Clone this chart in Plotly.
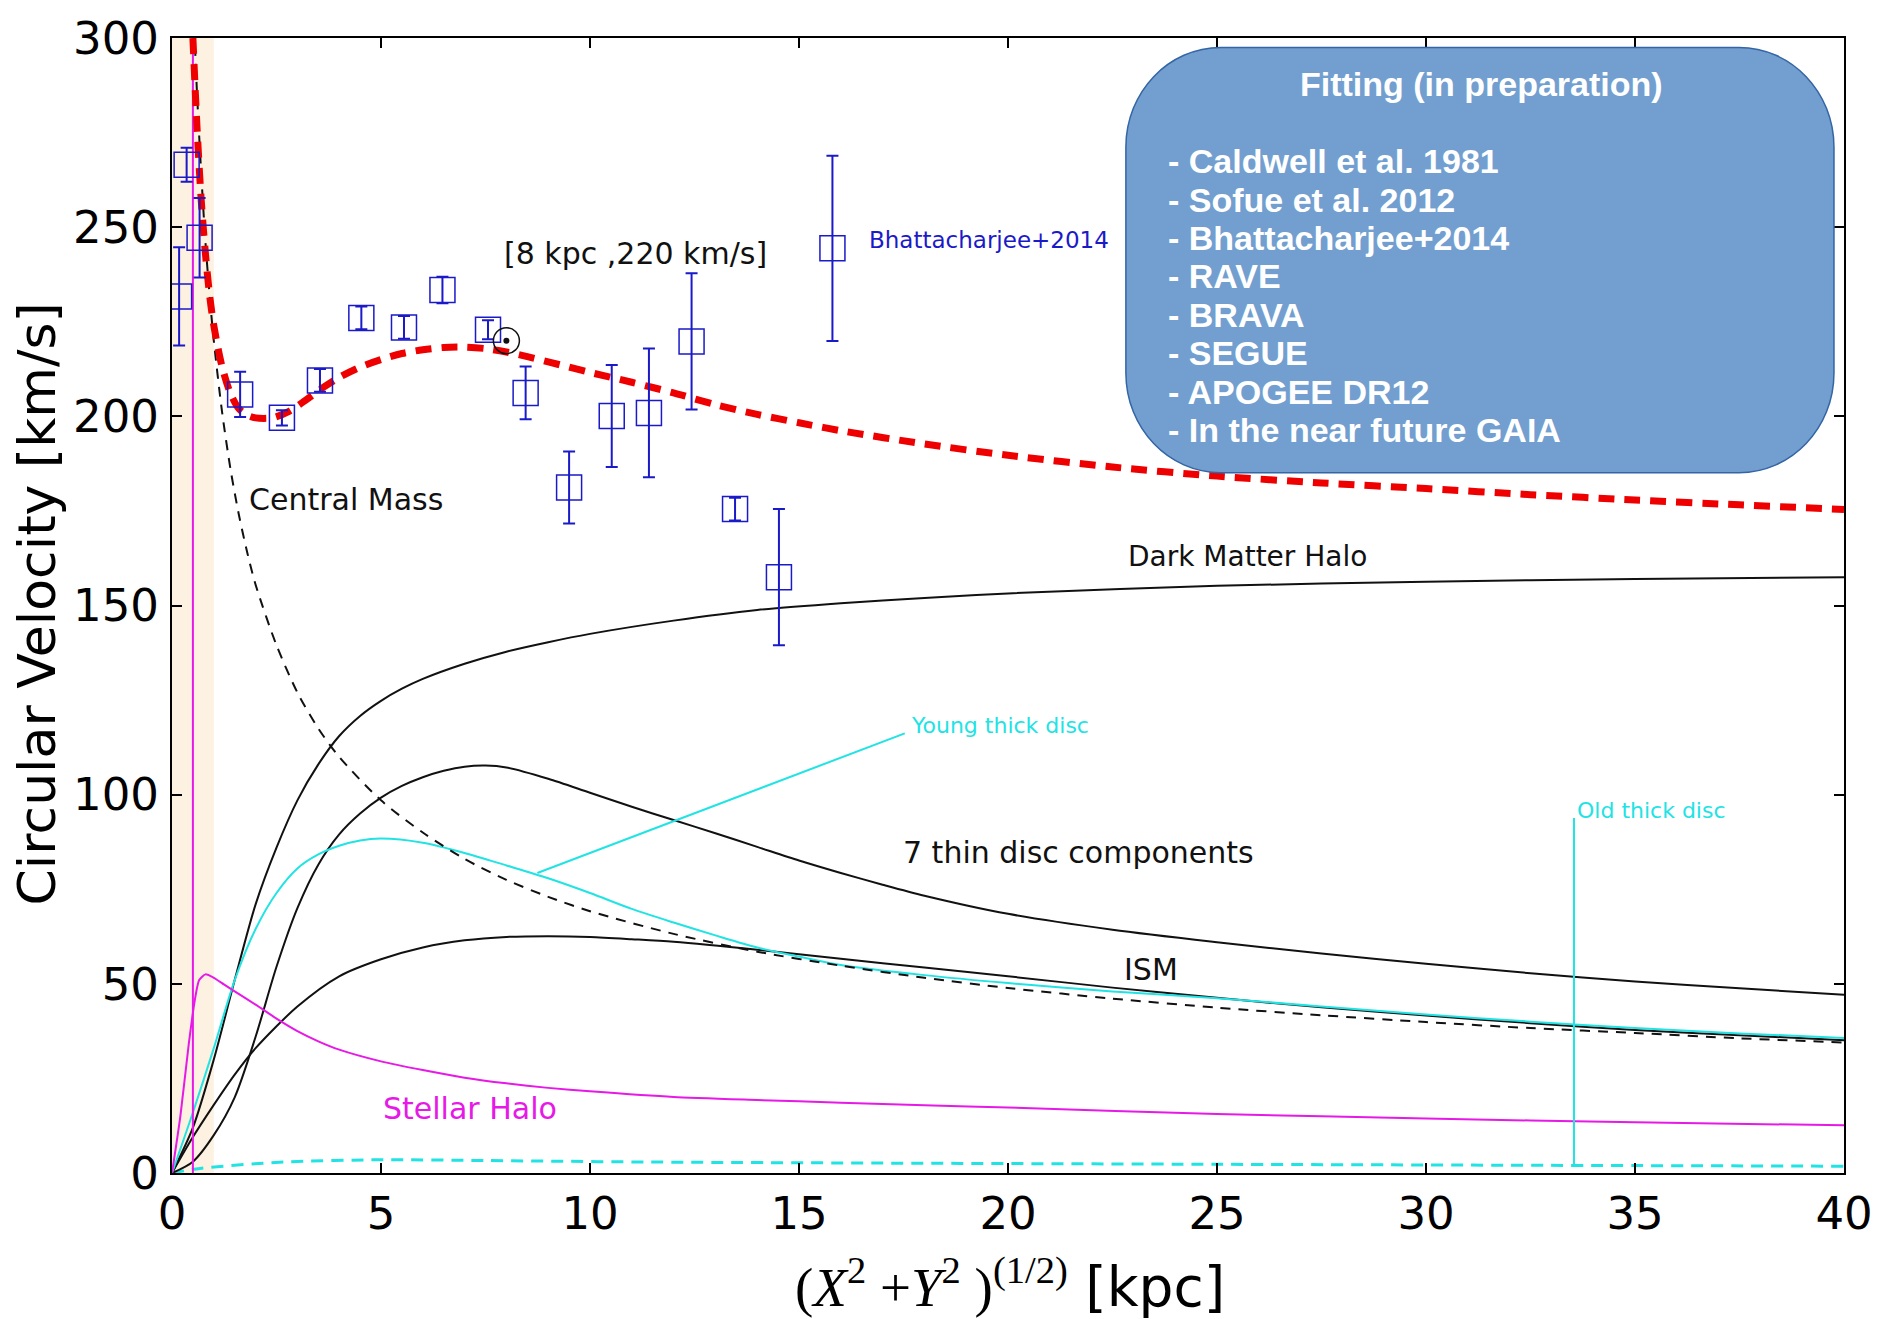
import plotly.graph_objects as go

# ---------------- data ----------------
obs_r = [0.17, 0.35, 0.66, 1.63, 2.63, 3.54, 4.53, 5.55, 6.47, 7.56, 8.46, 9.5,
         10.52, 11.41, 12.43, 13.47, 14.52, 15.8]
obs_v = [231.7, 266.5, 247.2, 205.8, 199.6, 209.5, 226.0, 223.5, 233.4, 222.9, 206.2, 181.2,
         200.1, 200.9, 219.8, 175.5, 157.5, 244.4]
obs_err = [13, 4.5, 10.5, 6, 2, 3, 3, 3, 3.5, 2.5, 7, 9.5,
           13.5, 17, 18, 3, 18, 24.5]

sun_r = [8]
sun_v = [220]

total_r = [0.5, 0.6, 0.7, 0.8, 0.9, 1.0, 1.2, 1.4, 1.6, 1.8, 2.0, 2.4, 2.8, 3.2, 3.6, 4.0, 4.5,
           5.0, 5.5, 6.0, 6.5, 7.0, 7.5, 8.0, 8.5, 9.0, 9.5, 10, 11, 12, 13, 14, 15, 16, 18,
           20, 22.5, 25, 27.5, 30, 32.5, 35, 37.5, 40]
total_v = [300, 276, 257, 243, 232, 224, 213, 206, 202, 200.3, 199.6, 199.6, 201.3, 204.3, 207.5,
           210.3, 213, 215, 216.6, 217.6, 218.2, 218.3, 217.9, 217, 215.8, 214.4, 213, 211.6,
           209, 206.2, 203.1, 200.5, 198.3, 196.2, 192.7, 189.7, 186.6, 184.2, 182.4, 180.9,
           179.3, 177.9, 176.6, 175.4]

central_r = [0.55, 0.6, 0.7, 0.8, 0.9, 1.0, 1.2, 1.4, 1.6, 1.8, 2.0, 2.5, 3, 3.5, 4, 5, 6, 7, 8,
             9, 10, 12, 14, 16, 18, 20, 22.5, 25, 27.5, 30, 32.5, 35, 37.5, 40]
central_v = [298, 285, 264, 246, 232, 220, 201, 186, 174, 164, 155.5, 139.5, 127, 117.5, 110,
             98.5, 90, 83, 77.5, 73, 69.2, 63.2, 58.5, 54.8, 51.6, 48.9, 46.1, 43.7, 41.7, 39.9,
             38.3, 37.0, 35.6, 34.5]

halo_r = [0, 0.5, 1, 1.5, 2, 2.5, 3, 3.5, 4, 4.5, 5, 5.5, 6, 7, 8, 9, 10, 12, 14, 16, 18, 20,
          25, 30, 35, 40]
halo_v = [0, 12, 30, 51, 71, 86, 98.5, 108, 115.5, 120.8, 124.8, 128, 130.6, 134.6, 137.8,
          140.3, 142.5, 146, 148.8, 150.6, 152, 153.2, 155.2, 156.3, 157, 157.5]

thin_r = [0, 0.5, 1, 1.5, 2, 2.5, 3, 3.5, 4, 4.5, 5, 5.5, 6, 6.5, 7, 7.5, 8, 9, 10, 11, 12, 13,
          14, 15, 16, 17, 18, 20, 22.5, 25, 27.5, 30, 32.5, 35, 37.5, 40]
thin_v = [0, 3, 10, 20, 36, 54.5, 70, 81.5, 89.5, 95, 99.2, 102.3, 104.6, 106.3, 107.4, 107.7,
          107.2, 104.2, 100.5, 96.8, 93.3, 89.8, 86.2, 82.6, 79.3, 76.2, 73.3, 68.5, 64.3, 61,
          58, 55.3, 52.8, 50.6, 48.8, 47.1]

ism_r = [0, 0.5, 1, 1.5, 2, 3, 4, 5, 6, 7, 8, 9, 10, 11, 12, 14, 16, 18, 20, 22.5, 25, 27.5, 30,
         32.5, 35, 37.5, 40]
ism_v = [0, 9.5, 18, 26, 33, 44, 52, 56.5, 59.6, 61.5, 62.4, 62.6, 62.4, 61.8, 61.1, 59, 56.6,
         54.3, 52, 49, 46.3, 43.8, 41.6, 39.6, 37.8, 36.4, 35.1]

young_r = [0, 0.5, 1, 1.5, 2, 2.5, 3, 3.5, 4, 4.5, 5, 6, 7, 8, 9, 10, 11, 12, 13, 14, 15, 16, 18,
           20, 22.5, 25, 27.5, 30, 32.5, 35, 37.5, 40]
young_v = [0, 16, 33, 51, 64.5, 74, 80.5, 84.2, 86.5, 87.9, 88.4, 87.3, 84.6, 81.3, 77.9, 74,
           69.8, 66.2, 62.8, 59.6, 57.2, 55, 52.3, 50.2, 48, 46.2, 44, 41.9, 40, 38.3, 36.9, 35.7]

stellar_r = [0, 0.2, 0.4, 0.55, 0.65, 0.8, 1.0, 1.25, 1.5, 2, 2.5, 3, 3.5, 4, 5, 6, 7, 8, 9, 10,
             12, 14, 16, 18, 20, 25, 30, 35, 40]
stellar_v = [0, 15, 34, 46, 51, 52.5, 51.6, 49.8, 48, 44.5, 40.8, 37.5, 34.8, 32.6, 29.5, 27.2,
             25.2, 23.7, 22.5, 21.6, 20.1, 19.3, 18.6, 17.9, 17.3, 15.6, 14.4, 13.4, 12.6]

old_r = [0, 0.67, 2.66, 5.05, 7.45, 11.4, 25, 40]
old_v = [0, 1.2, 2.9, 3.5, 3.3, 2.9, 2.3, 1.8]

bulge_line_r = [0.5, 0.5]
bulge_line_v = [0, 300]

x_ticks = [0, 5, 10, 15, 20, 25, 30, 35, 40]
y_ticks = [0, 50, 100, 150, 200, 250, 300]

box_title = "Fitting (in preparation)"
box_items = ["- Caldwell et al. 1981", "- Sofue et al. 2012", "- Bhattacharjee+2014",
             "- RAVE", "- BRAVA", "- SEGUE", "- APOGEE DR12", "- In the near future GAIA"]

# ---------------- styles ----------------
BLACK = "#111111"
CYAN = "#22e3e3"
MAGENTA = "#e619e6"
RED = "#ee0000"
BLUE = "#1a1ac8"
LBL = "DejaVu Sans"

fig = go.Figure()

def curve(x, y, color, width=2, dash="solid", smoothing=0.8):
    fig.add_trace(go.Scatter(x=x, y=y, mode="lines", hoverinfo="skip",
                             line=dict(color=color, width=width, dash=dash,
                                       shape="spline", smoothing=smoothing)))

curve(old_r, old_v, CYAN, 3, "12px,8px")
curve(halo_r, halo_v, BLACK, 2)
curve(thin_r, thin_v, BLACK, 2)
curve(ism_r, ism_v, BLACK, 2)
curve(young_r, young_v, CYAN, 2)
curve(stellar_r, stellar_v, MAGENTA, 2, smoothing=0.6)
curve(central_r, central_v, BLACK, 2, "10px,8px")
fig.add_trace(go.Scatter(x=bulge_line_r, y=bulge_line_v, mode="lines", hoverinfo="skip",
                         line=dict(color=MAGENTA, width=2)))
curve(total_r, total_v, RED, 7, "16px,10px")

fig.add_trace(go.Scatter(
    x=obs_r, y=obs_v, mode="markers",
    marker=dict(symbol="square-open", size=25, color=BLUE, line=dict(width=1.5, color=BLUE)),
    error_y=dict(type="data", array=obs_err, visible=True, color=BLUE, thickness=2, width=6)))

fig.add_trace(go.Scatter(x=sun_r, y=sun_v, mode="markers",
                         marker=dict(symbol="circle-open", size=26, color=BLACK,
                                     line=dict(width=1.5, color=BLACK))))
fig.add_trace(go.Scatter(x=sun_r, y=sun_v, mode="markers",
                         marker=dict(symbol="circle", size=6, color=BLACK)))

# ---------------- shapes ----------------
shapes = []
shapes.append(dict(type="rect", xref="x", yref="y", x0=0, x1=1, y0=0, y1=300,
                   fillcolor="#fdf1e1", line=dict(width=0), layer="below"))
# leader lines
shapes.append(dict(type="line", xref="x", yref="y", x0=8.74, y0=79.3, x1=17.53, y1=116.2,
                   line=dict(color=CYAN, width=2)))
shapes.append(dict(type="line", xref="x", yref="y", x0=33.54, y0=2.0, x1=33.54, y1=93.8,
                   line=dict(color=CYAN, width=2)))

# rounded box
bx0, bx1, by0, by1 = 22.82, 39.76, 185.1, 297.5
rx, ry = 95 * 40 / 1672, 100 * 300 / 1138.7
k = 0.5523
path = (f"M {bx0+rx},{by1} L {bx1-rx},{by1} "
        f"C {bx1-rx+k*rx},{by1} {bx1},{by1-ry+k*ry} {bx1},{by1-ry} "
        f"L {bx1},{by0+ry} "
        f"C {bx1},{by0+ry-k*ry} {bx1-rx+k*rx},{by0} {bx1-rx},{by0} "
        f"L {bx0+rx},{by0} "
        f"C {bx0+rx-k*rx},{by0} {bx0},{by0+ry-k*ry} {bx0},{by0+ry} "
        f"L {bx0},{by1-ry} "
        f"C {bx0},{by1-ry+k*ry} {bx0+rx-k*rx},{by1} {bx0+rx},{by1} Z")
shapes.append(dict(type="path", xref="x", yref="y", path=path, fillcolor="#729fcf",
                   line=dict(color="#3465a4", width=1.5), layer="above"))

# ---------------- annotations ----------------
ann = []
def label(x, y, text, color=BLACK, size=30, anchor="left", family=LBL):
    ann.append(dict(x=x, y=y, xref="x", yref="y", text=text, showarrow=False,
                    xanchor=anchor, yanchor="middle",
                    font=dict(family=family, size=size, color=color)))

label(11.09, 243.1, "[8 kpc ,220 km/s]", anchor="center")
label(1.79, 178.0, "Central Mass")
label(16.63, 246.5, "Bhattacharjee+2014", color=BLUE, size=23)
label(22.82, 163.0, "Dark Matter Halo", size=28)
label(17.43, 84.8, "7 thin disc components")
label(22.73, 53.7, "ISM")
label(4.99, 17.0, "Stellar Halo", color=MAGENTA)
label(17.63, 118.2, "Young thick disc", color=CYAN, size=22)
label(33.56, 95.8, "Old thick disc", color=CYAN, size=22)

BOXF = "Liberation Sans"
ann.append(dict(x=31.32, y=287.8, xref="x", yref="y", text=f"<b>{box_title}</b>", showarrow=False,
                xanchor="center", yanchor="middle", font=dict(family=BOXF, size=34, color="white")))
item_y = [267.4, 257.3, 247.1, 237.0, 226.8, 216.7, 206.5, 196.3]
for yy, t in zip(item_y, box_items):
    ann.append(dict(x=23.78, y=yy, xref="x", yref="y", text=f"<b>{t}</b>", showarrow=False,
                    xanchor="left", yanchor="middle", font=dict(family=BOXF, size=34, color="white")))

# axis titles
ann.append(dict(x=0.501, y=-0.098, xref="paper", yref="paper", showarrow=False,
                xanchor="center", yanchor="middle",
                text=("<span style=\"font-family:Liberation Serif\">(<i>X</i><sup>2</sup> +<i>Y</i><sup>2</sup> )"
                      "<sup>(1/2)</sup></span> [kpc]"),
                font=dict(family=LBL, size=55, color="black")))
ann.append(dict(x=-0.0807, y=0.501, xref="paper", yref="paper", showarrow=False,
                xanchor="center", yanchor="middle", textangle=-90,
                text="Circular Velocity [km/s]",
                font=dict(family=LBL, size=52, color="black")))

axis_common = dict(showgrid=False, zeroline=False, showline=True, linecolor="black",
                   linewidth=2, mirror="ticks", ticks="inside", ticklen=10, tickwidth=1.5,
                   tickcolor="black", tickfont=dict(family=LBL, size=45, color="black"))

fig.update_layout(
    width=1888, height=1319,
    margin=dict(l=172, r=44, t=34, b=146),
    paper_bgcolor="white", plot_bgcolor="white",
    showlegend=False,
    xaxis=dict(range=[0, 40], tickvals=x_ticks, ticklabelstandoff=0, **axis_common),
    yaxis=dict(range=[0, 300], tickvals=y_ticks, ticklabelstandoff=2, **axis_common),
    shapes=shapes, annotations=ann,
)

fig.write_html("out.html")
